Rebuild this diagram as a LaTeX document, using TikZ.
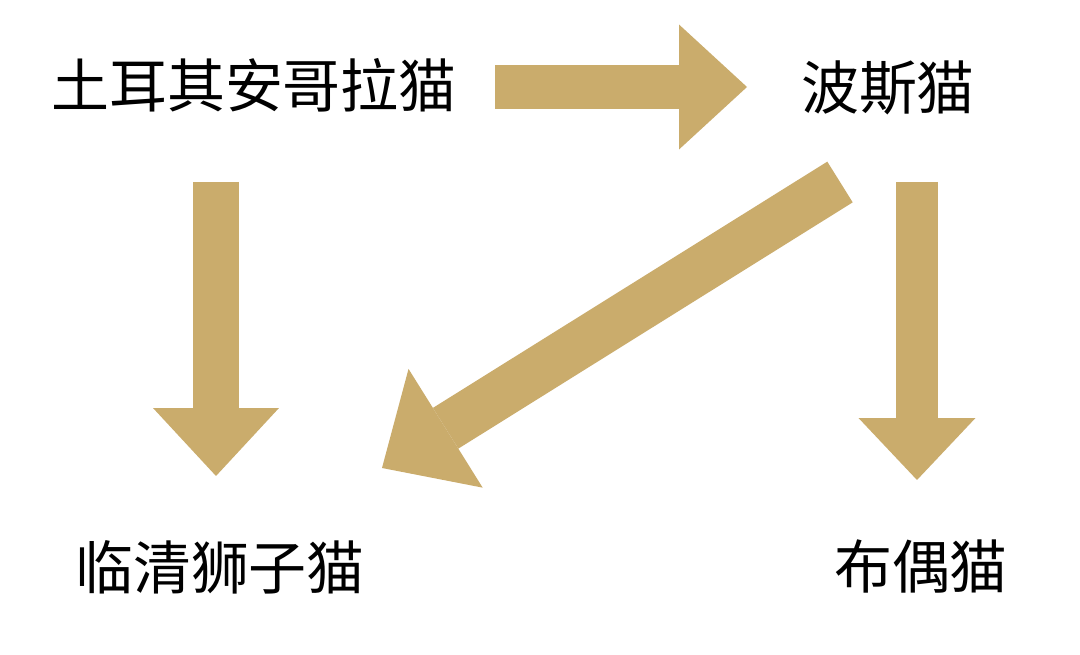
\documentclass[tikz,border=0pt]{standalone}
\usepackage{fontspec}
\setmainfont{Noto Sans CJK SC}
\usetikzlibrary{arrows.meta}
\definecolor{catgold}{RGB}{202,172,108}
\tikzset{
	catname/.style={inner sep=0pt,font=\fontsize{33}{36}\selectfont},
	bigarrow/.style n args={3}{draw=catgold,line width=#1,-{Triangle[length=#2,width=#3,line width=0pt]}}
}
\begin{document}
\begin{tikzpicture}[x=0.02cm,y=-0.02cm]
				\fill[white] (0,0) rectangle (1080,655);
				\useasboundingbox (0,0) rectangle (1080,655);

				\node[catname] (turk) at (254,85) {土耳其安哥拉猫};
				\node[catname] (persian) at (888,88) {波斯猫};
				\node[catname] (linqing) at (220,567) {临清狮子猫};
				\node[catname] (ragdoll) at (921,566) {布偶猫};

				\coordinate (t1) at (495,87);
				\coordinate (h1) at (747,87);
				\coordinate (t2) at (216,182);
				\coordinate (h2) at (216,476);
				\coordinate (t3) at (917,182);
				\coordinate (h3) at (917,480);
				\coordinate (t4) at (840,182);
				\coordinate (h4) at (382,468);

				\draw[bigarrow={0.88cm}{1.36cm}{2.5cm}] (t1) -- (h1);
				\draw[bigarrow={0.92cm}{1.36cm}{2.52cm}] (t2) -- (h2);
				\draw[bigarrow={0.84cm}{1.24cm}{2.34cm}] (t3) -- (h3);
				\draw[bigarrow={0.96cm}{1.5cm}{2.8cm}] (t4) -- (h4);

		\end{tikzpicture}
\end{document}
